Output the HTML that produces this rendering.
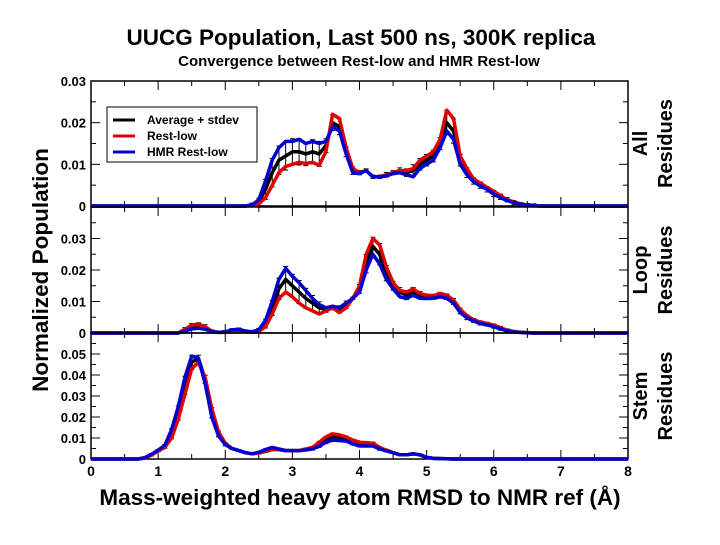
<!DOCTYPE html>
<html><head><meta charset="utf-8"><style>
body{margin:0;background:#fff}
svg text{font-family:"Liberation Sans",sans-serif;font-weight:bold}
</style></head><body>
<svg id="chart" width="720" height="540" viewBox="0 0 720 540" xmlns="http://www.w3.org/2000/svg">
<text x="361" y="45" text-anchor="middle" font-size="22.5">UUCG Population, Last 500 ns, 300K replica</text>
<text x="359" y="66" text-anchor="middle" font-size="15">Convergence between Rest-low and HMR Rest-low</text>
<text transform="translate(48,270) rotate(-90)" text-anchor="middle" font-size="22.5">Normalized Population</text>
<text x="360" y="505" text-anchor="middle" font-size="22.5">Mass-weighted heavy atom RMSD to NMR ref (Å)</text>
<g id="plots"></g>
</svg>
<script>
const xs=[0,0.1,0.2,0.3,0.4,0.5,0.6,0.7,0.8,0.9,1.0,1.1,1.2,1.3,1.4,1.5,1.6,1.7,1.8,1.9,2.0,2.1,2.2,2.3,2.4,2.5,2.6,2.7,2.8,2.9,3.0,3.1,3.2,3.3,3.4,3.5,3.6,3.7,3.8,3.9,4.0,4.1,4.2,4.3,4.4,4.5,4.6,4.7,4.8,4.9,5.0,5.1,5.2,5.3,5.4,5.5,5.6,5.7,5.8,5.9,6.0,6.1,6.2,6.3,6.4,6.5,6.6,6.7,6.8,6.9,7.0,8.0];
const z24=[0,0,0,0,0,0,0,0,0,0,0,0,0,0,0,0,0,0,0,0,0,0,0,0];
const allAvg=z24.concat([0.0002,0.001,0.004,0.008,0.011,0.012,0.013,0.013,0.0125,0.013,0.0125,0.0145,0.02,0.019,0.013,0.0085,0.008,0.0085,0.007,0.007,0.0075,0.008,0.0085,0.008,0.0085,0.01,0.011,0.012,0.015,0.02,0.018,0.011,0.008,0.006,0.005,0.004,0.003,0.0022,0.0015,0.0008,0.0004,0.0002,0.0001,0,0,0,0,0]);
const allRed=z24.concat([0.0001,0.0005,0.002,0.005,0.008,0.0095,0.01,0.0105,0.0102,0.0105,0.0098,0.013,0.022,0.021,0.014,0.009,0.008,0.0085,0.007,0.007,0.0075,0.008,0.0085,0.0085,0.009,0.011,0.012,0.013,0.016,0.023,0.021,0.012,0.009,0.0065,0.0055,0.0045,0.0035,0.0025,0.0015,0.001,0.0005,0.0002,0.0001,0,0,0,0,0]);
const allBlue=z24.concat([0.0003,0.0015,0.006,0.011,0.014,0.0155,0.0155,0.016,0.015,0.0155,0.015,0.0155,0.019,0.018,0.0125,0.008,0.0078,0.0085,0.007,0.007,0.0072,0.0078,0.008,0.0075,0.007,0.009,0.01,0.011,0.014,0.018,0.016,0.01,0.0075,0.0058,0.0048,0.004,0.0028,0.002,0.0013,0.0008,0.0004,0.0002,0.0001,0,0,0,0,0]);
const z14=[0,0,0,0,0,0,0,0,0,0,0,0,0,0];
const loopAvg=z14.concat([0.001,0.002,0.0022,0.0018,0.0005,0.0002,0.0003,0.0008,0.001,0.0005,0.0003,0.0008,0.003,0.008,0.014,0.017,0.015,0.013,0.011,0.0095,0.008,0.0075,0.008,0.0075,0.009,0.011,0.014,0.022,0.0275,0.025,0.019,0.015,0.013,0.012,0.013,0.012,0.0115,0.0115,0.012,0.0115,0.01,0.007,0.005,0.004,0.0032,0.0028,0.0022,0.0015,0.0008,0.0004,0.0002,0.0001,0,0,0,0,0,0]);
const loopRed=z14.concat([0.0012,0.0025,0.0028,0.002,0.0006,0.0002,0.0002,0.0006,0.0008,0.0004,0.0002,0.0005,0.002,0.006,0.011,0.013,0.0115,0.0095,0.008,0.007,0.006,0.007,0.008,0.0065,0.008,0.011,0.015,0.025,0.03,0.028,0.021,0.016,0.0135,0.013,0.014,0.0125,0.012,0.0118,0.0125,0.012,0.0105,0.0075,0.0055,0.0042,0.0035,0.003,0.0025,0.0017,0.0009,0.0004,0.0002,0.0001,0,0,0,0,0,0]);
const loopBlue=z14.concat([0.0006,0.0013,0.0015,0.0012,0.0004,0.0002,0.0004,0.001,0.0012,0.0006,0.0004,0.001,0.004,0.01,0.017,0.0205,0.018,0.016,0.0135,0.011,0.009,0.008,0.0085,0.008,0.0095,0.011,0.013,0.02,0.025,0.022,0.017,0.014,0.0115,0.011,0.012,0.011,0.011,0.011,0.0115,0.011,0.0095,0.0065,0.0048,0.0038,0.003,0.0026,0.002,0.0013,0.0007,0.0003,0.0002,0.0001,0,0,0,0,0,0]);
const z8=[0,0,0,0,0,0,0,0];
const z18=[0,0,0,0,0,0,0,0,0,0,0,0,0,0,0,0,0,0];
const stemAvg=z8.concat([0.0005,0.002,0.004,0.006,0.012,0.022,0.035,0.046,0.048,0.038,0.022,0.012,0.007,0.005,0.004,0.003,0.0025,0.003,0.004,0.005,0.0045,0.004,0.004,0.004,0.0045,0.005,0.007,0.009,0.0105,0.01,0.0095,0.008,0.007,0.007,0.007,0.005,0.004,0.003,0.002,0.002,0.0025,0.002,0.0008,0.0003,0.0002,0.0001],z18);
const stemRed=z8.concat([0.0004,0.0018,0.0038,0.0055,0.01,0.019,0.031,0.043,0.046,0.039,0.024,0.013,0.0075,0.005,0.004,0.003,0.0025,0.0028,0.0035,0.0045,0.0045,0.004,0.004,0.004,0.0048,0.0055,0.008,0.0105,0.012,0.0115,0.0105,0.009,0.008,0.0078,0.0075,0.0055,0.0042,0.003,0.002,0.002,0.0025,0.002,0.0008,0.0003,0.0002,0.0001],z18);
const stemBlue=z8.concat([0.0006,0.0022,0.0042,0.0065,0.014,0.025,0.039,0.049,0.048,0.036,0.02,0.011,0.0068,0.005,0.004,0.003,0.0025,0.0032,0.0045,0.0055,0.0048,0.004,0.004,0.004,0.0043,0.0048,0.006,0.008,0.009,0.0088,0.0085,0.0072,0.0062,0.0062,0.0062,0.0048,0.0038,0.003,0.002,0.002,0.0025,0.002,0.0008,0.0003,0.0002,0.0001],z18);
const xTicks=[0,1,2,3,4,5,6,7,8];
const panelNames=["all","loop","stem"];
const panelLabels=[["All","Residues"],["Loop","Residues"],["Stem","Residues"]];
const panelMax=[0.03,0.04,0.06];
const panelTickLabels=[["0","0.01","0.02","0.03"],["0","0.01","0.02","0.03"],["0","0.01","0.02","0.03","0.04","0.05"]];
const panelTickValues=[[0,0.01,0.02,0.03],[0,0.01,0.02,0.03],[0,0.01,0.02,0.03,0.04,0.05]];
const panelSeries=[[allAvg,allRed,allBlue],[loopAvg,loopRed,loopBlue],[stemAvg,stemRed,stemBlue]];

const NS="http://www.w3.org/2000/svg";
const g=document.getElementById('plots');
const X0=91,X1=628;
const panelTop=[81,207,333],panelBot=[206,333,459];
function sx(v){return X0+(v/8)*(X1-X0);}
function mk(t,a){const e=document.createElementNS(NS,t);for(const k in a)e.setAttribute(k,a[k]);g.appendChild(e);return e;}
for(let p=0;p<3;p++){
  const top=panelTop[p],bot=panelBot[p],mx=panelMax[p];
  const sy=v=>bot-(v/mx)*(bot-top);
  const fr=mk('rect',{x:X0,y:top,width:X1-X0,height:bot-top,fill:'none',stroke:'#000','stroke-width':1.5});
  
  
  for(let i=0;i<=16;i++){
    const v=i*0.5,len=(i%2==0)?9:5;if(i==0||i==16)continue;
    mk('line',{x1:sx(v),x2:sx(v),y1:bot,y2:bot-len,stroke:'#000','stroke-width':1});
    mk('line',{x1:sx(v),x2:sx(v),y1:top,y2:top+len,stroke:'#000','stroke-width':1});
  }
  for(let v=0;v<=mx+1e-9;v+=0.005){
    const major=Math.abs(v/0.01-Math.round(v/0.01))<1e-6;
    mk('line',{x1:X0,x2:X0+(major?9:5),y1:sy(v),y2:sy(v),stroke:'#000'});
    mk('line',{x1:X1,x2:X1-(major?9:5),y1:sy(v),y2:sy(v),stroke:'#000'});
  }
  panelTickLabels[p].forEach((lab,i)=>{
    const t=mk('text',{x:86,y:sy(panelTickValues[p][i])+5,'text-anchor':'end','font-size':13});
    t.textContent=lab;
    
    
  });
  const rl=mk('text',{transform:`translate(653,${(top+bot)/2}) rotate(-90)`,'text-anchor':'middle','font-size':20});
  
  
  rl.innerHTML=`<tspan x="0" dy="-6">${panelLabels[p][0]}</tspan><tspan x="0" dy="25">${panelLabels[p][1]}</tspan>`;
  const [avg,red,blue]=panelSeries[p];
  for(let i=0;i<xs.length-1;i++){
    if(avg[i]<=0)continue;
    const sd=Math.abs(red[i]-blue[i])/2+0.0004;
    const x=sx(xs[i]);
    const eb=mk('path',{d:`M${x} ${sy(avg[i]+sd)}V${sy(Math.max(0,avg[i]-sd))}M${x-2.5} ${sy(avg[i]+sd)}h5M${x-2.5} ${sy(Math.max(0,avg[i]-sd))}h5`,stroke:'#000','stroke-width':1});
    
    
  }
  [[avg,'#000','average'],[red,'#e00000','rest-low'],[blue,'#0000d0','hmr-rest-low']].forEach(([s,c,n],k)=>{
    const d=s.map((v,i)=>(i?'L':'M')+sx(xs[i]).toFixed(1)+' '+sy(v).toFixed(1)).join('');
    const l=mk('path',{d:d,fill:'none',stroke:c,'stroke-width':3.5,'stroke-linejoin':'round'});
    
    
  });
}
xTicks.forEach(v=>{
  const t=mk('text',{x:sx(v),y:476,'text-anchor':'middle','font-size':14});
  t.textContent=v;
  
  
});
const lg=mk('g',{});


mk('rect',{x:107,y:107,width:150,height:55,fill:'#fff',stroke:'#000','stroke-width':1});
[['Average + stdev','#000'],['Rest-low','#e00000'],['HMR Rest-low','#0000d0']].forEach(([n,c],i)=>{
  const y=120+i*16;
  const ll=mk('line',{x1:113,x2:135,y1:y,y2:y,stroke:c,'stroke-width':3});
  
  
  const t=mk('text',{x:147,y:y+4,'font-size':12});
  t.textContent=n;
  
  
});
</script>
</body></html>
